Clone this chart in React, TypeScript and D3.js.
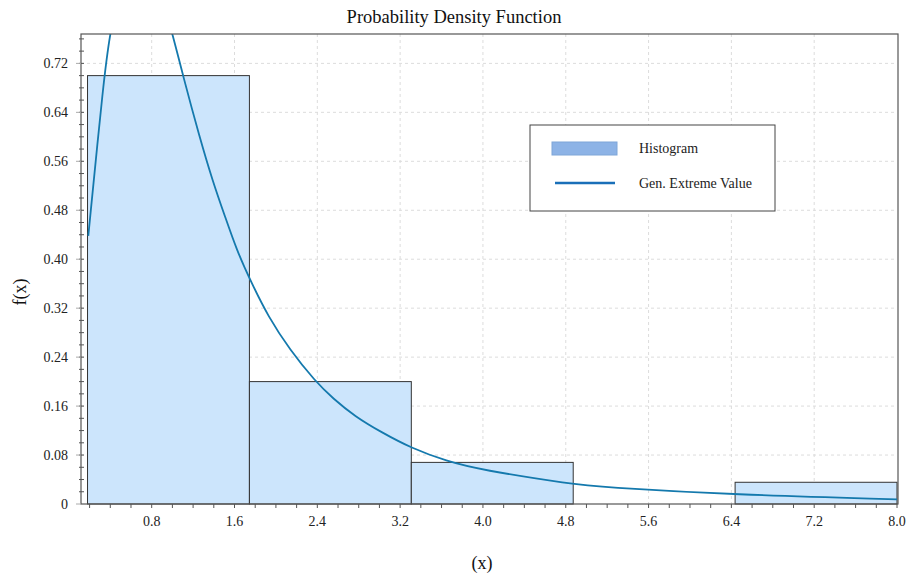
import React, { useEffect, useRef } from "react";
import * as d3 from "d3";

// histogram bins (edges) and densities
const binEdges = [0.18, 1.744, 3.308, 4.872, 6.436, 8.0];
const binDensity = [0.7, 0.2, 0.068, 0, 0.0355];

// fitted GEV density
const gevX = [0.1875, 0.339, 0.397, 0.5, 0.65, 0.8, 0.9, 0.999, 1.105, 1.26, 1.392, 1.508, 1.621, 1.756, 1.926, 2.135, 2.377, 2.554, 2.764, 3.021, 3.311, 3.649, 3.971, 4.873, 5.131, 6.435, 8.0];
const gevY = [0.438, 0.698, 0.77, 0.85, 0.89, 0.87, 0.825, 0.77, 0.698, 0.601, 0.526, 0.47, 0.415, 0.364, 0.306, 0.252, 0.201, 0.172, 0.143, 0.117, 0.091, 0.07, 0.056, 0.032, 0.028, 0.015, 0.0077];

const xTicks = [0.8, 1.6, 2.4, 3.2, 4.0, 4.8, 5.6, 6.4, 7.2, 8.0];
const yTicks = [0, 0.08, 0.16, 0.24, 0.32, 0.4, 0.48, 0.56, 0.64, 0.72];

const title = "Probability Density Function";
const xTitle = "(x)";
const yTitle = "f(x)";
const legendLabels = ["Histogram", "Gen. Extreme Value"];

const W = 906,
  H = 575;
const plot = { left: 81, right: 897, top: 34, bottom: 504 };
const font = "'Liberation Serif', 'Times New Roman', serif";

export default function App() {
  const ref = useRef<SVGSVGElement>(null);

  useEffect(() => {
    const svg = d3.select(ref.current);
    svg.selectAll("*").remove();

    const x = d3.scaleLinear().domain([0.117, 8.0]).range([plot.left, plot.right]);
    const y = d3.scaleLinear().domain([0, 0.768]).range([plot.bottom, plot.top]);

    svg
      .append("defs")
      .append("clipPath")
      .attr("id", "plotclip")
      .append("rect")
      .attr("x", plot.left)
      .attr("y", plot.top)
      .attr("width", plot.right - plot.left + 1)
      .attr("height", plot.bottom - plot.top);

    svg.append("rect").attr("width", W).attr("height", H).attr("fill", "#fff");

    // grid
    const grid = svg.append("g").attr("stroke", "#dcdcdc").attr("stroke-dasharray", "3,3");
    grid
      .selectAll("line.v")
      .data(xTicks.slice(0, -1))
      .join("line")
      .attr("x1", (d) => x(d))
      .attr("x2", (d) => x(d))
      .attr("y1", plot.top)
      .attr("y2", plot.bottom);
    grid
      .selectAll("line.h")
      .data(yTicks.slice(1))
      .join("line")
      .attr("x1", plot.left)
      .attr("x2", plot.right)
      .attr("y1", (d) => y(d))
      .attr("y2", (d) => y(d));

    // histogram bars
    svg
      .append("g")
      .selectAll("rect")
      .data(binDensity)
      .join("rect")
      .attr("x", (d, i) => x(binEdges[i]))
      .attr("width", (d, i) => x(binEdges[i + 1]) - x(binEdges[i]))
      .attr("y", (d) => y(d))
      .attr("height", (d) => y(0) - y(d))
      .attr("fill", "#cce5fc")
      .attr("stroke", "#333")
      .attr("stroke-width", 1);

    // GEV curve
    const line = d3
      .line<number>()
      .x((d, i) => x(gevX[i]))
      .y((d) => y(d))
      .curve(d3.curveBasis);
    svg
      .append("path")
      .datum(gevY)
      .attr("clip-path", "url(#plotclip)")
      .attr("d", line)
      .attr("fill", "none")
      .attr("stroke", "#1479ad")
      .attr("stroke-width", 1.8);

    // frame
    svg
      .append("rect")
      .attr("x", plot.left)
      .attr("y", plot.top)
      .attr("width", plot.right - plot.left + 1)
      .attr("height", plot.bottom - plot.top)
      .attr("fill", "none")
      .attr("stroke", "#555")
      .attr("stroke-width", 1.2);

    // x axis ticks
    const xMinor = d3.range(1, 41).map((i) => i * 0.2);
    svg
      .append("g")
      .selectAll("line")
      .data(xMinor)
      .join("line")
      .attr("x1", (d) => x(d))
      .attr("x2", (d) => x(d))
      .attr("y1", plot.bottom)
      .attr("y2", plot.bottom + 4)
      .attr("stroke", "#555");
    svg
      .append("g")
      .selectAll("text")
      .data(xTicks)
      .join("text")
      .attr("x", (d) => x(d))
      .attr("y", 526)
      .attr("text-anchor", "middle")
      .attr("font-family", font)
      .attr("font-size", 14)
      .attr("fill", "#222")
      .text((d) => d3.format(".1f")(d));

    // y axis ticks
    const yMinor = d3.range(1, 39).map((i) => i * 0.02);
    svg
      .append("g")
      .selectAll("line")
      .data(yMinor)
      .join("line")
      .attr("x1", plot.left - 2)
      .attr("x2", plot.left + 3)
      .attr("y1", (d) => y(d))
      .attr("y2", (d) => y(d))
      .attr("stroke", "#555");
    svg
      .append("g")
      .selectAll("line")
      .data(yTicks)
      .join("line")
      .attr("x1", plot.left - 5)
      .attr("x2", plot.left)
      .attr("y1", (d) => y(d))
      .attr("y2", (d) => y(d))
      .attr("stroke", "#aaa");
    svg
      .append("g")
      .selectAll("text")
      .data(yTicks)
      .join("text")
      .attr("x", 68)
      .attr("y", (d) => y(d) + 5)
      .attr("text-anchor", "end")
      .attr("font-family", font)
      .attr("font-size", 14)
      .attr("fill", "#222")
      .text((d) => (d === 0 ? "0" : d3.format(".2f")(d)));

    // titles
    svg
      .append("text")
      .attr("x", 454)
      .attr("y", 23)
      .attr("text-anchor", "middle")
      .attr("font-family", font)
      .attr("font-size", 18.5)
      .attr("fill", "#111")
      .text(title);
    svg
      .append("text")
      .attr("x", 482)
      .attr("y", 569)
      .attr("text-anchor", "middle")
      .attr("font-family", font)
      .attr("font-size", 18)
      .attr("fill", "#111")
      .text(xTitle);
    svg
      .append("text")
      .attr("transform", "translate(26, 292) rotate(-90)")
      .attr("text-anchor", "middle")
      .attr("font-family", font)
      .attr("font-size", 18)
      .attr("fill", "#111")
      .text(yTitle);

    // legend
    const lg = svg.append("g").attr("transform", "translate(530, 125)");
    lg.append("rect")
      .attr("width", 245)
      .attr("height", 86)
      .attr("fill", "#fff")
      .attr("stroke", "#444")
      .attr("stroke-width", 1);
    lg.append("rect")
      .attr("x", 22)
      .attr("y", 17)
      .attr("width", 65)
      .attr("height", 13)
      .attr("fill", "#8db3e6")
      .attr("stroke", "#7fa6d8");
    lg.append("line")
      .attr("x1", 25)
      .attr("x2", 85)
      .attr("y1", 58)
      .attr("y2", 58)
      .attr("stroke", "#1a6fb8")
      .attr("stroke-width", 2.5);
    lg.selectAll("text")
      .data(legendLabels)
      .join("text")
      .attr("x", 109)
      .attr("y", (d, i) => 28 + i * 35)
      .attr("font-family", font)
      .attr("font-size", 14)
      .attr("fill", "#222")
      .text((d) => d);
  }, []);

  return (
    <svg
      ref={ref}
      width={W}
      height={H}
      style={{ position: "absolute", left: 0, top: 0, display: "block" }}
    />
  );
}
